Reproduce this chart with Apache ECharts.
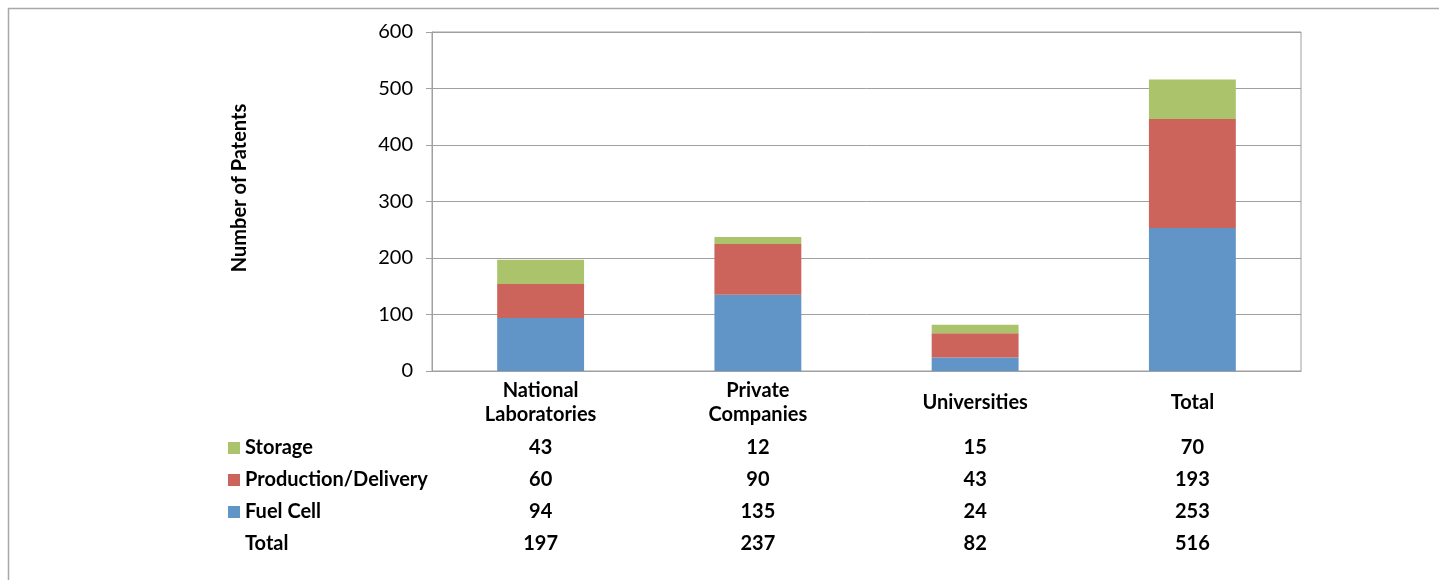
<!DOCTYPE html>
<html>
<head>
<meta charset="utf-8">
<script src="https://cdn.jsdelivr.net/npm/echarts@6/dist/echarts.min.js"></script>
<style>
html,body{margin:0;padding:0;background:#fff;}
#chart{width:1439px;height:580px;}
</style>
</head>
<body>
<div id="chart"></div>
<script>
// ---- data ----
const categories = ['National\nLaboratories', 'Private\nCompanies', 'Universities', 'Total'];
const storage = [43, 12, 15, 70];
const productionDelivery = [60, 90, 43, 193];
const fuelCell = [94, 135, 24, 253];
const totals = [197, 237, 82, 516];
const seriesNames = ['Storage', 'Production/Delivery', 'Fuel Cell'];
const yTicks = { min: 0, max: 600, interval: 100 };
const yAxisTitle = 'Number of Patents';
const totalRowLabel = 'Total';

const FONT = 'Lato';
const FS = 20;
const colors = { 'Fuel Cell': '#6195c7', 'Production/Delivery': '#cc645c', 'Storage': '#abc46c' };

const chart = echarts.init(document.getElementById('chart'), null, { renderer: 'canvas' });

function catLabel(value, index) {
  const lines = String(value).split('\n');
  let head;
  if (lines.length === 1) head = '{cs|' + lines[0] + '}';
  else head = lines.map(l => '{c|' + l + '}').join('\n');
  const rows = [storage[index], productionDelivery[index], fuelCell[index], totals[index]];
  return head + '\n{gap| }\n' + rows.map(r => '{v|' + r + '}').join('\n');
}

const boldTxt = { fontFamily: FONT, fontWeight: 'bold', fontSize: FS, color: '#000' };

const option = {
  backgroundColor: '#fff',
  animation: false,
  textStyle: { fontFamily: FONT },
  grid: {
    left: 432, right: 138, top: 32, bottom: 209,
    show: true, borderColor: '#a0a0a0', borderWidth: 1, containLabel: false
  },
  legend: {
    orient: 'vertical',
    left: 228, top: 438,
    padding: 0,
    data: seriesNames,
    icon: 'rect',
    itemWidth: 12, itemHeight: 12,
    itemGap: 12,
    formatter: '{b|{name}}',
    textStyle: {
      fontFamily: FONT, fontWeight: 'bold', fontSize: FS, color: '#000', lineHeight: 20,
      rich: { b: Object.assign({ lineHeight: 20 }, boldTxt) }
    },
    selectedMode: false
  },
  xAxis: {
    type: 'category',
    data: categories,
    axisTick: { show: false },
    axisLine: { lineStyle: { color: '#a0a0a0', width: 1 } },
    axisLabel: {
      interval: 0,
      margin: 8,
      color: '#000',
      formatter: catLabel,
      rich: {
        c: Object.assign({ lineHeight: 24 }, boldTxt),
        cs: Object.assign({ lineHeight: 48 }, boldTxt),
        gap: { fontSize: 1, lineHeight: 5 },
        v: Object.assign({ lineHeight: 32 }, boldTxt)
      }
    }
  },
  yAxis: {
    type: 'value',
    min: yTicks.min, max: yTicks.max, interval: yTicks.interval,
    axisLine: { show: true, lineStyle: { color: '#a0a0a0', width: 1 } },
    axisTick: { show: true, length: 6, lineStyle: { color: '#a0a0a0' } },
    axisLabel: { margin: 19, color: '#000', fontFamily: FONT, fontSize: FS },
    splitLine: { lineStyle: { color: '#a0a0a0', width: 1 } }
  },
  series: [
    { name: 'Fuel Cell', type: 'bar', stack: 'total', data: fuelCell, barWidth: '40%', itemStyle: { color: colors['Fuel Cell'] } },
    { name: 'Production/Delivery', type: 'bar', stack: 'total', data: productionDelivery, barWidth: '40%', itemStyle: { color: colors['Production/Delivery'] } },
    { name: 'Storage', type: 'bar', stack: 'total', data: storage, barWidth: '40%', itemStyle: { color: colors['Storage'] } }
  ],
  graphic: [
    { type: 'polyline', shape: { points: [[8.5, 580], [8.5, 8.5], [1439, 8.5]] }, style: { stroke: '#a8a8a8', lineWidth: 1.5, fill: null }, silent: true },
    { type: 'text', x: 240, y: 188, rotation: Math.PI / 2,
      style: { text: yAxisTitle, fontFamily: FONT, fontWeight: 'bold', fontSize: FS, fill: '#000', align: 'center', verticalAlign: 'middle' } },
    { type: 'text', x: 245, y: 544,
      style: { text: totalRowLabel, fontFamily: FONT, fontWeight: 'bold', fontSize: FS, fill: '#000', align: 'left', verticalAlign: 'middle' } }
  ]
};
chart.setOption(option);
</script>
</body>
</html>
